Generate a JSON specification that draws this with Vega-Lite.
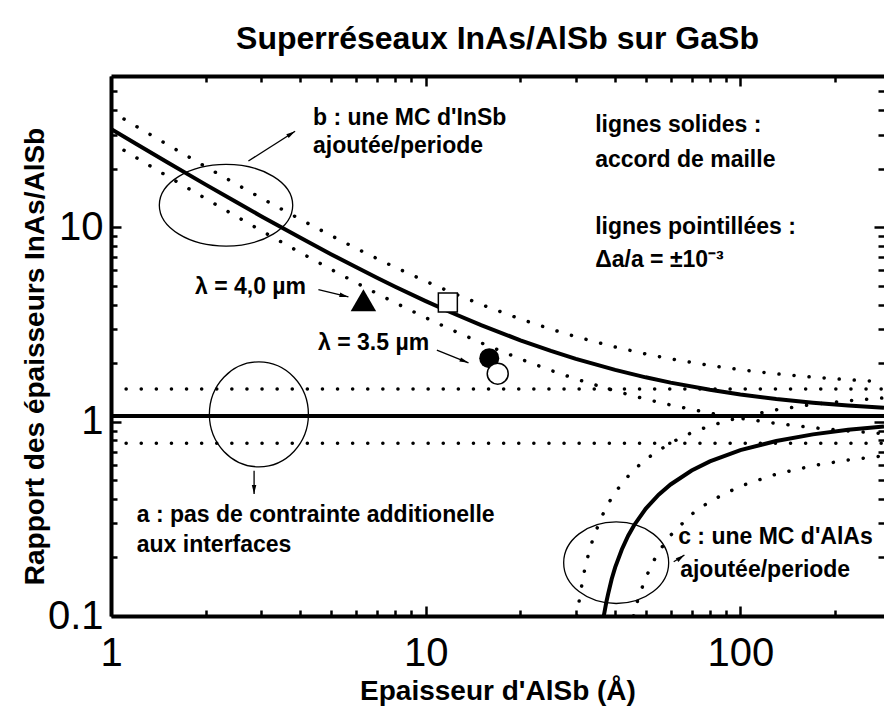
{
  "$schema": "https://vega.github.io/schema/vega-lite/v6.json",
  "width": 773,
  "height": 540,
  "autosize": {"type": "none"},
  "padding": {"left": 111, "top": 76, "right": 0, "bottom": 92},
  "background": "white",
  "config": {"view": {"stroke": null}, "font": "Liberation Sans"},
  "title": {"text": "Superréseaux InAs/AlSb sur GaSb", "fontSize": 32, "fontWeight": "bold", "font": "Liberation Sans", "anchor": "middle", "frame": "group", "offset": 15, "color": "black"},
  "datasets": {
    "curves": [
      {"curve": "a", "tol": "0", "x": 1, "y": 1.07}, {"curve": "a", "tol": "0", "x": 286, "y": 1.07},
      {"curve": "a", "tol": "+", "x": 1, "y": 1.47}, {"curve": "a", "tol": "+", "x": 286, "y": 1.47},
      {"curve": "a", "tol": "-", "x": 1, "y": 0.775}, {"curve": "a", "tol": "-", "x": 286, "y": 0.775},
      {"curve": "b", "tol": "0", "x": 1, "y": 32.07}, {"curve": "b", "tol": "0", "x": 1.2, "y": 26.9}, {"curve": "b", "tol": "0", "x": 1.5, "y": 21.74}, {"curve": "b", "tol": "0", "x": 2, "y": 16.57}, {"curve": "b", "tol": "0", "x": 2.5, "y": 13.47}, {"curve": "b", "tol": "0", "x": 3, "y": 11.4}, {"curve": "b", "tol": "0", "x": 4, "y": 8.82}, {"curve": "b", "tol": "0", "x": 5, "y": 7.27}, {"curve": "b", "tol": "0", "x": 6, "y": 6.24}, {"curve": "b", "tol": "0", "x": 7, "y": 5.5}, {"curve": "b", "tol": "0", "x": 8, "y": 4.945}, {"curve": "b", "tol": "0", "x": 10, "y": 4.17}, {"curve": "b", "tol": "0", "x": 12, "y": 3.653}, {"curve": "b", "tol": "0", "x": 15, "y": 3.137}, {"curve": "b", "tol": "0", "x": 20, "y": 2.62}, {"curve": "b", "tol": "0", "x": 25, "y": 2.31}, {"curve": "b", "tol": "0", "x": 30, "y": 2.103}, {"curve": "b", "tol": "0", "x": 40, "y": 1.845}, {"curve": "b", "tol": "0", "x": 50, "y": 1.69}, {"curve": "b", "tol": "0", "x": 60, "y": 1.587}, {"curve": "b", "tol": "0", "x": 80, "y": 1.458}, {"curve": "b", "tol": "0", "x": 100, "y": 1.38}, {"curve": "b", "tol": "0", "x": 130, "y": 1.308}, {"curve": "b", "tol": "0", "x": 170, "y": 1.252}, {"curve": "b", "tol": "0", "x": 220, "y": 1.211}, {"curve": "b", "tol": "0", "x": 286, "y": 1.178},
      {"curve": "b", "tol": "+", "x": 1, "y": 39.47}, {"curve": "b", "tol": "+", "x": 1.2, "y": 33.14}, {"curve": "b", "tol": "+", "x": 1.5, "y": 26.8}, {"curve": "b", "tol": "+", "x": 2, "y": 20.47}, {"curve": "b", "tol": "+", "x": 2.5, "y": 16.67}, {"curve": "b", "tol": "+", "x": 3, "y": 14.14}, {"curve": "b", "tol": "+", "x": 4, "y": 10.97}, {"curve": "b", "tol": "+", "x": 5, "y": 9.07}, {"curve": "b", "tol": "+", "x": 6, "y": 7.8}, {"curve": "b", "tol": "+", "x": 7, "y": 6.9}, {"curve": "b", "tol": "+", "x": 8, "y": 6.22}, {"curve": "b", "tol": "+", "x": 10, "y": 5.27}, {"curve": "b", "tol": "+", "x": 12, "y": 4.637}, {"curve": "b", "tol": "+", "x": 15, "y": 4.003}, {"curve": "b", "tol": "+", "x": 20, "y": 3.37}, {"curve": "b", "tol": "+", "x": 25, "y": 2.99}, {"curve": "b", "tol": "+", "x": 30, "y": 2.737}, {"curve": "b", "tol": "+", "x": 40, "y": 2.42}, {"curve": "b", "tol": "+", "x": 50, "y": 2.23}, {"curve": "b", "tol": "+", "x": 60, "y": 2.103}, {"curve": "b", "tol": "+", "x": 80, "y": 1.945}, {"curve": "b", "tol": "+", "x": 100, "y": 1.85}, {"curve": "b", "tol": "+", "x": 130, "y": 1.762}, {"curve": "b", "tol": "+", "x": 170, "y": 1.694}, {"curve": "b", "tol": "+", "x": 220, "y": 1.643}, {"curve": "b", "tol": "+", "x": 286, "y": 1.603},
      {"curve": "b", "tol": "-", "x": 1, "y": 27.28}, {"curve": "b", "tol": "-", "x": 1.2, "y": 22.86}, {"curve": "b", "tol": "-", "x": 1.5, "y": 18.44}, {"curve": "b", "tol": "-", "x": 2, "y": 14.03}, {"curve": "b", "tol": "-", "x": 2.5, "y": 11.38}, {"curve": "b", "tol": "-", "x": 3, "y": 9.608}, {"curve": "b", "tol": "-", "x": 4, "y": 7.4}, {"curve": "b", "tol": "-", "x": 5, "y": 6.075}, {"curve": "b", "tol": "-", "x": 6, "y": 5.192}, {"curve": "b", "tol": "-", "x": 7, "y": 4.561}, {"curve": "b", "tol": "-", "x": 8, "y": 4.088}, {"curve": "b", "tol": "-", "x": 10, "y": 3.425}, {"curve": "b", "tol": "-", "x": 12, "y": 2.983}, {"curve": "b", "tol": "-", "x": 15, "y": 2.542}, {"curve": "b", "tol": "-", "x": 20, "y": 2.1}, {"curve": "b", "tol": "-", "x": 25, "y": 1.835}, {"curve": "b", "tol": "-", "x": 30, "y": 1.658}, {"curve": "b", "tol": "-", "x": 40, "y": 1.438}, {"curve": "b", "tol": "-", "x": 50, "y": 1.305}, {"curve": "b", "tol": "-", "x": 60, "y": 1.217}, {"curve": "b", "tol": "-", "x": 80, "y": 1.106}, {"curve": "b", "tol": "-", "x": 100, "y": 1.04}, {"curve": "b", "tol": "-", "x": 130, "y": 0.979}, {"curve": "b", "tol": "-", "x": 170, "y": 0.931}, {"curve": "b", "tol": "-", "x": 220, "y": 0.896}, {"curve": "b", "tol": "-", "x": 286, "y": 0.868},
      {"curve": "c", "tol": "0", "x": 36.8, "y": 0.1}, {"curve": "c", "tol": "0", "x": 37.5, "y": 0.118}, {"curve": "c", "tol": "0", "x": 38, "y": 0.13}, {"curve": "c", "tol": "0", "x": 39, "y": 0.155}, {"curve": "c", "tol": "0", "x": 40, "y": 0.178}, {"curve": "c", "tol": "0", "x": 42, "y": 0.22}, {"curve": "c", "tol": "0", "x": 44, "y": 0.259}, {"curve": "c", "tol": "0", "x": 46, "y": 0.294}, {"curve": "c", "tol": "0", "x": 50, "y": 0.356}, {"curve": "c", "tol": "0", "x": 55, "y": 0.421}, {"curve": "c", "tol": "0", "x": 60, "y": 0.475}, {"curve": "c", "tol": "0", "x": 70, "y": 0.56}, {"curve": "c", "tol": "0", "x": 80, "y": 0.624}, {"curve": "c", "tol": "0", "x": 100, "y": 0.713}, {"curve": "c", "tol": "0", "x": 130, "y": 0.795}, {"curve": "c", "tol": "0", "x": 170, "y": 0.86}, {"curve": "c", "tol": "0", "x": 220, "y": 0.908}, {"curve": "c", "tol": "0", "x": 286, "y": 0.945},
      {"curve": "c", "tol": "+", "x": 30.3, "y": 0.1}, {"curve": "c", "tol": "+", "x": 30.7, "y": 0.118}, {"curve": "c", "tol": "+", "x": 31, "y": 0.131}, {"curve": "c", "tol": "+", "x": 32, "y": 0.173}, {"curve": "c", "tol": "+", "x": 33, "y": 0.212}, {"curve": "c", "tol": "+", "x": 34, "y": 0.249}, {"curve": "c", "tol": "+", "x": 36, "y": 0.317}, {"curve": "c", "tol": "+", "x": 38, "y": 0.378}, {"curve": "c", "tol": "+", "x": 40, "y": 0.433}, {"curve": "c", "tol": "+", "x": 45, "y": 0.548}, {"curve": "c", "tol": "+", "x": 50, "y": 0.64}, {"curve": "c", "tol": "+", "x": 60, "y": 0.778}, {"curve": "c", "tol": "+", "x": 70, "y": 0.877}, {"curve": "c", "tol": "+", "x": 80, "y": 0.951}, {"curve": "c", "tol": "+", "x": 100, "y": 1.055}, {"curve": "c", "tol": "+", "x": 130, "y": 1.151}, {"curve": "c", "tol": "+", "x": 170, "y": 1.226}, {"curve": "c", "tol": "+", "x": 220, "y": 1.281}, {"curve": "c", "tol": "+", "x": 286, "y": 1.325},
      {"curve": "c", "tol": "-", "x": 45.8, "y": 0.1}, {"curve": "c", "tol": "-", "x": 46.5, "y": 0.11}, {"curve": "c", "tol": "-", "x": 47, "y": 0.118}, {"curve": "c", "tol": "-", "x": 48, "y": 0.131}, {"curve": "c", "tol": "-", "x": 50, "y": 0.157}, {"curve": "c", "tol": "-", "x": 53, "y": 0.192}, {"curve": "c", "tol": "-", "x": 56, "y": 0.223}, {"curve": "c", "tol": "-", "x": 60, "y": 0.26}, {"curve": "c", "tol": "-", "x": 70, "y": 0.334}, {"curve": "c", "tol": "-", "x": 80, "y": 0.389}, {"curve": "c", "tol": "-", "x": 100, "y": 0.466}, {"curve": "c", "tol": "-", "x": 130, "y": 0.537}, {"curve": "c", "tol": "-", "x": 170, "y": 0.593}, {"curve": "c", "tol": "-", "x": 220, "y": 0.635}, {"curve": "c", "tol": "-", "x": 286, "y": 0.667}
    ],
    "markers": [
      {"id": "tri", "x": 6.34, "y": 4.21},
      {"id": "sq", "x": 11.76, "y": 4.1},
      {"id": "dot", "x": 15.92, "y": 2.12},
      {"id": "ring", "x": 16.94, "y": 1.765}
    ],
    "ellipses": [
      {"id": "e1", "x": 2.32, "y": 12.98},
      {"id": "e2", "x": 2.951, "y": 1.09},
      {"id": "e3", "x": 40.3, "y": 0.188}
    ],
    "arrows": [
      {"id": "a1", "x": 2.733, "y": 21.93, "x2": 3.846, "y2": 31.17},
      {"id": "a2", "x": 4.562, "y": 4.783, "x2": 5.682, "y2": 4.38},
      {"id": "a3", "x": 10.85, "y": 2.331, "x2": 13.68, "y2": 2.006},
      {"id": "a4", "x": 2.849, "y": 0.5585, "x2": 2.849, "y2": 0.4239},
      {"id": "a5", "x": 61.4, "y": 0.19, "x2": 66.4, "y2": 0.206}
    ],
    "notes": [
      {"t": "b : une MC d'InSb", "x": 4.386, "y": 36.35},
      {"t": "ajoutée/periode", "x": 4.386, "y": 26.09},
      {"t": "lignes solides :", "x": 34.56, "y": 33.45},
      {"t": "accord de maille", "x": 34.56, "y": 22.11},
      {"t": "lignes pointillées :", "x": 34.56, "y": 10.04},
      {"t": "Δa/a = ±10⁻³", "x": 34.56, "y": 6.766},
      {"t": "λ = 4,0 µm", "x": 1.849, "y": 4.933},
      {"t": "λ = 3.5 µm", "x": 4.55, "y": 2.533},
      {"t": "a : pas de contrainte additionelle", "x": 1.207, "y": 0.3306},
      {"t": "aux interfaces", "x": 1.207, "y": 0.2317},
      {"t": "c : une MC d'AlAs", "x": 63.43, "y": 0.2557},
      {"t": "ajoutée/periode", "x": 64.37, "y": 0.1724}
    ]
  },
  "layer": [
    {
      "data": {"name": "curves"},
      "transform": [{"filter": "datum.tol != '0'"}],
      "mark": {"type": "line", "color": "black", "strokeWidth": 3.5, "strokeDash": [0.1, 15], "strokeCap": "round", "clip": true},
      "encoding": {
        "x": {"field": "x", "type": "quantitative", "scale": {"type": "log", "domain": [1, 286], "nice": false},
          "axis": {"orient": "bottom", "values": [1, 2, 3, 4, 5, 6, 7, 8, 9, 10, 20, 30, 40, 50, 60, 70, 80, 90, 100, 200],
            "labelExpr": "datum.value == 1 ? '1' : datum.value == 10 ? '10' : datum.value == 100 ? '100' : ''",
            "tickSize": {"condition": {"test": "datum.value == 1 || datum.value == 10 || datum.value == 100", "value": -10}, "value": -6},
            "labelPadding": 27, "labelFontSize": 40, "labelFont": "Liberation Sans", "labelColor": "black", "labelFlush": false, "labelOverlap": false, "labelBound": false,
            "domainWidth": 4, "domainColor": "black", "tickColor": "black", "tickWidth": 2.5, "grid": false,
            "title": "Epaisseur d'AlSb (Å)", "titleFontSize": 28, "titleFontWeight": "bold", "titleFont": "Liberation Sans", "titleColor": "black", "titlePadding": 0}},
        "y": {"field": "y", "type": "quantitative", "scale": {"type": "log", "domain": [0.1, 60], "nice": false},
          "axis": {"orient": "left", "values": [0.1, 0.2, 0.3, 0.4, 0.5, 0.6, 0.7, 0.8, 0.9, 1, 2, 3, 4, 5, 6, 7, 8, 9, 10, 20, 30, 40, 50],
            "labelExpr": "datum.value == 0.1 ? '0.1' : datum.value == 1 ? '1' : datum.value == 10 ? '10' : ''",
            "tickSize": {"condition": {"test": "datum.value == 0.1 || datum.value == 1 || datum.value == 10", "value": -10}, "value": -6},
            "labelPadding": 18, "labelFontSize": 40, "labelFont": "Liberation Sans", "labelColor": "black", "labelFlush": false, "labelOverlap": false, "labelBound": false,
            "domainWidth": 4, "domainColor": "black", "tickColor": "black", "tickWidth": 2.5, "grid": false,
            "title": "Rapport des épaisseurs InAs/AlSb", "titleFontSize": 28, "titleFontWeight": "bold", "titleFont": "Liberation Sans", "titleColor": "black", "titlePadding": -2, "titleY": 280}},
        "detail": [{"field": "curve"}, {"field": "tol"}]
      }
    },
    {
      "data": {"name": "curves"},
      "transform": [{"filter": "datum.tol == '0'"}],
      "mark": {"type": "line", "color": "black", "strokeWidth": 4, "clip": true},
      "encoding": {
        "x": {"field": "x", "type": "quantitative", "scale": {"type": "log", "domain": [1, 286], "nice": false},
          "axis": {"orient": "top", "values": [1, 2, 3, 4, 5, 6, 7, 8, 9, 10, 20, 30, 40, 50, 60, 70, 80, 90, 100, 200],
            "labels": false, "title": null,
            "tickSize": {"condition": {"test": "datum.value == 1 || datum.value == 10 || datum.value == 100", "value": -10}, "value": -6},
            "domainWidth": 4, "domainColor": "black", "tickColor": "black", "tickWidth": 2.5, "grid": false}},
        "y": {"field": "y", "type": "quantitative", "scale": {"type": "log", "domain": [0.1, 60], "nice": false},
          "axis": {"orient": "right", "values": [0.1, 0.2, 0.3, 0.4, 0.5, 0.6, 0.7, 0.8, 0.9, 1, 2, 3, 4, 5, 6, 7, 8, 9, 10, 20, 30, 40, 50],
            "labels": false, "title": null, "domain": false,
            "tickSize": {"condition": {"test": "datum.value == 0.1 || datum.value == 1 || datum.value == 10", "value": -10}, "value": -6},
            "tickColor": "black", "tickWidth": 2.5, "grid": false}},
        "detail": [{"field": "curve"}, {"field": "tol"}]
      }
    },
    {
      "data": {"name": "ellipses"},
      "transform": [{"filter": "datum.id == 'e1'"}],
      "mark": {"type": "point", "filled": false, "stroke": "black", "strokeWidth": 1.3, "opacity": 1, "size": 17796,
        "shape": "M 1 0 C 1 0.338 0.5523 0.612 0 0.612 C -0.5523 0.612 -1 0.338 -1 0 C -1 -0.338 -0.5523 -0.612 0 -0.612 C 0.5523 -0.612 1 -0.338 1 0 Z"},
      "encoding": {
        "x": {"field": "x", "type": "quantitative", "scale": {"type": "log", "domain": [1, 286], "nice": false}, "axis": null},
        "y": {"field": "y", "type": "quantitative", "scale": {"type": "log", "domain": [0.1, 60], "nice": false}, "axis": null}
      }
    },
    {
      "data": {"name": "ellipses"},
      "transform": [{"filter": "datum.id == 'e2'"}],
      "mark": {"type": "point", "filled": false, "stroke": "black", "strokeWidth": 1.3, "opacity": 1, "size": 11025,
        "shape": "M 0.943 0 C 0.943 0.5523 0.5208 1 0 1 C -0.5208 1 -0.943 0.5523 -0.943 0 C -0.943 -0.5523 -0.5208 -1 0 -1 C 0.5208 -1 0.943 -0.5523 0.943 0 Z"},
      "encoding": {
        "x": {"field": "x", "type": "quantitative", "scale": {"type": "log", "domain": [1, 286], "nice": false}, "axis": null},
        "y": {"field": "y", "type": "quantitative", "scale": {"type": "log", "domain": [0.1, 60], "nice": false}, "axis": null}
      }
    },
    {
      "data": {"name": "ellipses"},
      "transform": [{"filter": "datum.id == 'e3'"}],
      "mark": {"type": "point", "filled": false, "stroke": "black", "strokeWidth": 1.3, "opacity": 1, "size": 11025,
        "shape": "M 1 0 C 1 0.4292 0.5523 0.777 0 0.777 C -0.5523 0.777 -1 0.4292 -1 0 C -1 -0.4292 -0.5523 -0.777 0 -0.777 C 0.5523 -0.777 1 -0.4292 1 0 Z"},
      "encoding": {
        "x": {"field": "x", "type": "quantitative", "scale": {"type": "log", "domain": [1, 286], "nice": false}, "axis": null},
        "y": {"field": "y", "type": "quantitative", "scale": {"type": "log", "domain": [0.1, 60], "nice": false}, "axis": null}
      }
    },
    {
      "data": {"name": "arrows"},
      "mark": {"type": "rule", "color": "black", "strokeWidth": 1.3},
      "encoding": {
        "x": {"field": "x", "type": "quantitative", "scale": {"type": "log", "domain": [1, 286], "nice": false}, "axis": null},
        "y": {"field": "y", "type": "quantitative", "scale": {"type": "log", "domain": [0.1, 60], "nice": false}, "axis": null},
        "x2": {"field": "x2"},
        "y2": {"field": "y2"}
      }
    },
    {
      "data": {"name": "arrows"},
      "transform": [{"filter": "datum.id == 'a1'"}],
      "mark": {"type": "point", "filled": true, "color": "black", "opacity": 1, "size": 81, "angle": 57.5, "shape": "M 0 0 L 0.5 2 L -0.5 2 Z"},
      "encoding": {
        "x": {"field": "x2", "type": "quantitative", "scale": {"type": "log", "domain": [1, 286], "nice": false}, "axis": null},
        "y": {"field": "y2", "type": "quantitative", "scale": {"type": "log", "domain": [0.1, 60], "nice": false}, "axis": null}
      }
    },
    {
      "data": {"name": "arrows"},
      "transform": [{"filter": "datum.id == 'a2'"}],
      "mark": {"type": "point", "filled": true, "color": "black", "opacity": 1, "size": 81, "angle": 103.9, "shape": "M 0 0 L 0.5 2 L -0.5 2 Z"},
      "encoding": {
        "x": {"field": "x2", "type": "quantitative", "scale": {"type": "log", "domain": [1, 286], "nice": false}, "axis": null},
        "y": {"field": "y2", "type": "quantitative", "scale": {"type": "log", "domain": [0.1, 60], "nice": false}, "axis": null}
      }
    },
    {
      "data": {"name": "arrows"},
      "transform": [{"filter": "datum.id == 'a3'"}],
      "mark": {"type": "point", "filled": true, "color": "black", "opacity": 1, "size": 81, "angle": 111.9, "shape": "M 0 0 L 0.5 2 L -0.5 2 Z"},
      "encoding": {
        "x": {"field": "x2", "type": "quantitative", "scale": {"type": "log", "domain": [1, 286], "nice": false}, "axis": null},
        "y": {"field": "y2", "type": "quantitative", "scale": {"type": "log", "domain": [0.1, 60], "nice": false}, "axis": null}
      }
    },
    {
      "data": {"name": "arrows"},
      "transform": [{"filter": "datum.id == 'a4'"}],
      "mark": {"type": "point", "filled": true, "color": "black", "opacity": 1, "size": 81, "angle": 180, "shape": "M 0 0 L 0.5 2 L -0.5 2 Z"},
      "encoding": {
        "x": {"field": "x2", "type": "quantitative", "scale": {"type": "log", "domain": [1, 286], "nice": false}, "axis": null},
        "y": {"field": "y2", "type": "quantitative", "scale": {"type": "log", "domain": [0.1, 60], "nice": false}, "axis": null}
      }
    },
    {
      "data": {"name": "arrows"},
      "transform": [{"filter": "datum.id == 'a5'"}],
      "mark": {"type": "point", "filled": true, "color": "black", "opacity": 1, "size": 81, "angle": 54.8, "shape": "M 0 0 L 0.5 2 L -0.5 2 Z"},
      "encoding": {
        "x": {"field": "x2", "type": "quantitative", "scale": {"type": "log", "domain": [1, 286], "nice": false}, "axis": null},
        "y": {"field": "y2", "type": "quantitative", "scale": {"type": "log", "domain": [0.1, 60], "nice": false}, "axis": null}
      }
    },
    {
      "data": {"name": "markers"},
      "transform": [{"filter": "datum.id == 'tri'"}],
      "mark": {"type": "point", "filled": true, "color": "black", "opacity": 1, "size": 650, "shape": "triangle-up"},
      "encoding": {
        "x": {"field": "x", "type": "quantitative", "scale": {"type": "log", "domain": [1, 286], "nice": false}, "axis": null},
        "y": {"field": "y", "type": "quantitative", "scale": {"type": "log", "domain": [0.1, 60], "nice": false}, "axis": null}
      }
    },
    {
      "data": {"name": "markers"},
      "transform": [{"filter": "datum.id == 'sq'"}],
      "mark": {"type": "point", "filled": true, "fill": "white", "stroke": "black", "strokeWidth": 1.5, "opacity": 1, "size": 361, "shape": "square"},
      "encoding": {
        "x": {"field": "x", "type": "quantitative", "scale": {"type": "log", "domain": [1, 286], "nice": false}, "axis": null},
        "y": {"field": "y", "type": "quantitative", "scale": {"type": "log", "domain": [0.1, 60], "nice": false}, "axis": null}
      }
    },
    {
      "data": {"name": "markers"},
      "transform": [{"filter": "datum.id == 'dot'"}],
      "mark": {"type": "point", "filled": true, "color": "black", "opacity": 1, "size": 400, "shape": "circle"},
      "encoding": {
        "x": {"field": "x", "type": "quantitative", "scale": {"type": "log", "domain": [1, 286], "nice": false}, "axis": null},
        "y": {"field": "y", "type": "quantitative", "scale": {"type": "log", "domain": [0.1, 60], "nice": false}, "axis": null}
      }
    },
    {
      "data": {"name": "markers"},
      "transform": [{"filter": "datum.id == 'ring'"}],
      "mark": {"type": "point", "filled": true, "fill": "white", "stroke": "black", "strokeWidth": 1.5, "opacity": 1, "size": 441, "shape": "circle"},
      "encoding": {
        "x": {"field": "x", "type": "quantitative", "scale": {"type": "log", "domain": [1, 286], "nice": false}, "axis": null},
        "y": {"field": "y", "type": "quantitative", "scale": {"type": "log", "domain": [0.1, 60], "nice": false}, "axis": null}
      }
    },
    {
      "data": {"name": "notes"},
      "mark": {"type": "text", "align": "left", "baseline": "middle", "fontSize": 23, "fontWeight": "bold", "font": "Liberation Sans", "color": "black"},
      "encoding": {
        "x": {"field": "x", "type": "quantitative", "scale": {"type": "log", "domain": [1, 286], "nice": false}, "axis": null},
        "y": {"field": "y", "type": "quantitative", "scale": {"type": "log", "domain": [0.1, 60], "nice": false}, "axis": null},
        "text": {"field": "t"}
      }
    }
  ],
  "resolve": {"axis": {"x": "independent", "y": "independent"}}
}
